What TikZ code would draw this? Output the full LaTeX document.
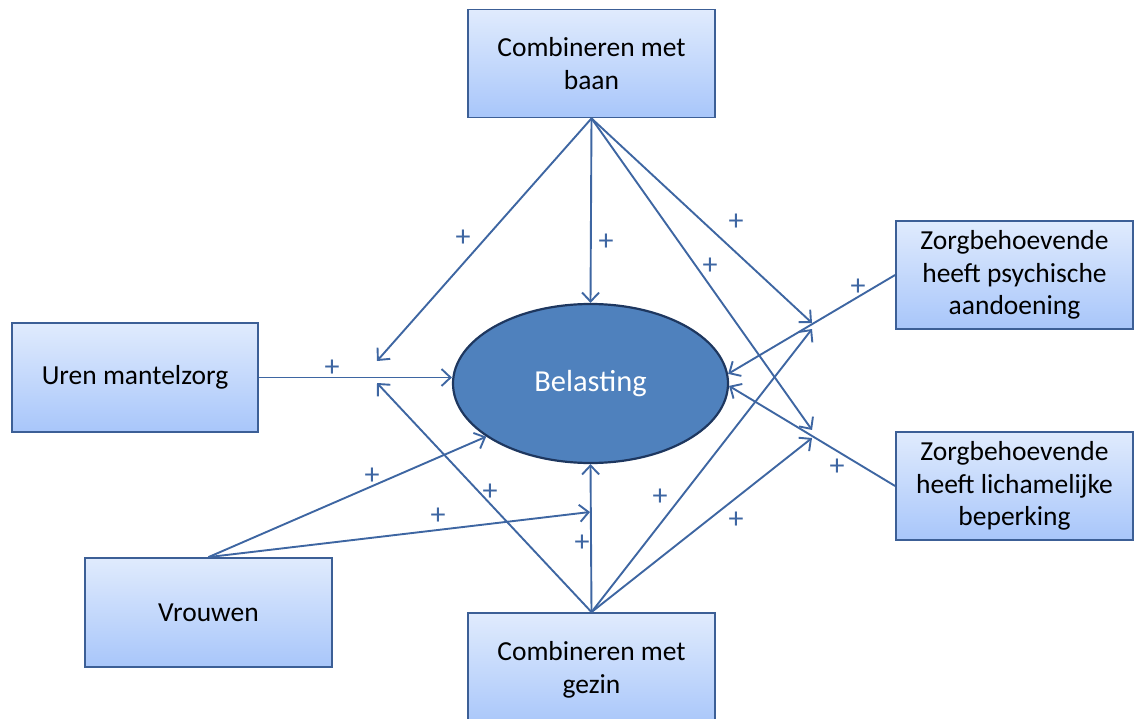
\documentclass[tikz,border=0pt]{standalone}
\usepackage{fontspec}
\setmainfont{Carlito}
\usetikzlibrary{arrows.meta,shapes.geometric}
\definecolor{boxtop}{RGB}{224,235,253}
\definecolor{boxbot}{RGB}{168,198,250}
\definecolor{boxline}{RGB}{60,95,150}
\definecolor{ellfill}{RGB}{79,129,189}
\definecolor{ellline}{RGB}{30,55,95}
\definecolor{conn}{RGB}{62,102,162}
\begin{document}
\begin{tikzpicture}[x=1pt,y=-1pt,
  factor/.style={draw=boxline, line width=1.8pt, top color=boxtop, bottom color=boxbot,
    minimum width=247pt, minimum height=108pt, inner sep=0pt, align=center,
    font=\fontsize{27.5}{32.5}\selectfont, text=black},
  belnode/.style={ellipse, draw=ellline, line width=2.2pt, fill=ellfill, minimum width=275pt,
    minimum height=159pt, inner sep=0pt, text=white, font=\fontsize{30.5}{34}\selectfont},
  arr/.style={draw=conn, line width=1.9pt, -{Straight Barb[length=9pt,width=17pt,line width=1.9pt]}},
  plus/.style={text=conn, font=\fontsize{30}{32}\selectfont, inner sep=0pt}]
\useasboundingbox (0,0) rectangle (1135,719);
\node[factor] (baan) at (591.5,63.5) {Combineren met\\baan};
\node[factor, minimum width=246pt, minimum height=109pt] (uren) at (135,377.5) {Uren mantelzorg};
\node[factor, minimum height=109pt] (vr) at (208.5,612.5) {Vrouwen};
\node[factor, minimum height=114pt] (gezin) at (591.5,670) {Combineren met\\gezin};
\node[factor, minimum width=237pt] (psy) at (1014.5,275) {Zorgbehoevende\\heeft psychische\\aandoening};
\node[factor, minimum width=237pt] (lich) at (1014.5,486) {Zorgbehoevende\\heeft lichamelijke\\beperking};
\node[belnode] (bel) at (590.5,383.5) {Belasting};

\coordinate (jl1) at (377,361);
\coordinate (jl2) at (377,383);
\coordinate (jr1) at (812,323);
\coordinate (jr2) at (812,329);
\coordinate (jr3) at (812,430);
\coordinate (jr4) at (812,438);
\coordinate (jv) at (590,512);

\draw[arr] (baan.south) -- (jl1);
\draw[arr] (baan.south) -- (bel.north);
\draw[arr] (baan.south) -- (jr1);
\draw[arr] (baan.south) -- (jr3);
\draw[arr] (uren.east) -- (uren.east -| bel.west);
\draw[arr] (vr.north) -- (bel.207);
\draw[arr] (vr.north) -- (jv);
\draw[arr] (gezin.north) -- (jl2);
\draw[arr] (gezin.north) -- (bel.south);
\draw[arr] (gezin.north) -- (jr2);
\draw[arr] (gezin.north) -- (jr4);
\draw[arr] (psy.west) -- (bel.4);
\draw[arr] (lich.west) -- (bel.-1);

\node[plus] (p1) at (463,238) {+};
\node[plus] (p2) at (606,242) {+};
\node[plus] (p3) at (736,222) {+};
\node[plus] (p4) at (710,266) {+};
\node[plus] (p5) at (332,368) {+};
\node[plus] (p6) at (858,287) {+};
\node[plus] (p7) at (837,467) {+};
\node[plus] (p8) at (372,476) {+};
\node[plus] (p9) at (438,516) {+};
\node[plus] (p10) at (490,492) {+};
\node[plus] (p11) at (582,543) {+};
\node[plus] (p12) at (660,497) {+};
\node[plus] (p13) at (736,520) {+};
\end{tikzpicture}
\end{document}
